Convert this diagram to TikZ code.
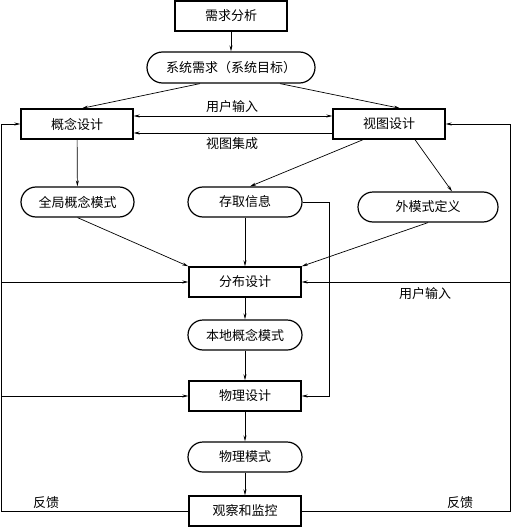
\documentclass[tikz,border=0pt]{standalone}
\usepackage{fontspec}
\newfontfamily\cjk{Noto Sans CJK SC}
\usetikzlibrary{arrows.meta}
\begin{document}
\begin{tikzpicture}[x=1pt,y=-1pt,
  font=\cjk\fontsize{13}{15}\selectfont,
  conn/.style={line width=0.7pt, -{Stealth[length=6pt,width=3pt]}},
  plain/.style={line width=0.7pt},
  boxnode/.style={draw, line width=1.4pt, minimum width=112pt, minimum height=30pt, inner sep=0pt},
  pill/.style={draw, line width=1.2pt, rounded corners=15pt, minimum height=30pt, inner sep=0pt},
  lbl/.style={inner sep=0pt}]
\useasboundingbox (0,0) rectangle (512,527);
\node[boxnode] (req) at (231,16) {需求分析};
\node[pill, minimum width=168pt, minimum height=31pt, rounded corners=15.5pt] (sys) at (231,67.5) {系统需求（系统目标）};
\node[boxnode] (con) at (77,124) {概念设计};
\node[boxnode] (view) at (389,124) {视图设计};
\node[pill, minimum width=113pt] (glob) at (77.5,202) {全局概念模式};
\node[pill, minimum width=114pt] (acc) at (245,202) {存取信息};
\node[pill, minimum width=140pt] (ext) at (428,207) {外模式定义};
\node[boxnode] (dist) at (245,282) {分布设计};
\node[pill, minimum width=114pt] (loc) at (245,335) {本地概念模式};
\node[boxnode] (phys) at (245,396) {物理设计};
\node[pill, minimum width=114pt] (pm) at (245,457) {物理模式};
\node[boxnode] (mon) at (245,511) {观察和监控};
\node[lbl] (ui1) at (232,107) {用户输入};
\node[lbl] (vi) at (232,144) {视图集成};
\node[lbl] (ui2) at (425,294) {用户输入};
\node[lbl] (fb1) at (46,503) {反馈};
\node[lbl] (fb2) at (460,503) {反馈};
\coordinate (L) at (1.5,124);
\coordinate (R) at (510.5,124);
% connectors
\draw[conn] (req) -- (sys);
\draw[conn] ([xshift=-31pt]sys.south) -- ([xshift=5pt]con.north);
\draw[conn] ([xshift=49pt]sys.south) -- ([xshift=11pt]view.north);
\draw[line width=0.7pt, {Stealth[length=6pt,width=3pt]}-{Stealth[length=6pt,width=3pt]}] ([yshift=8pt]con.east) -- ([yshift=8pt]view.west);
\draw[conn] ([yshift=-9pt]view.west) -- ([yshift=-9pt]con.east);
\draw[conn] (con) -- (glob);
\draw[conn] ([xshift=-26pt]view.south) -- ([xshift=5pt]acc.north);
\draw[conn] ([xshift=26pt]view.south) -- ([xshift=24pt]ext.north);
\draw[conn] (glob.south) -- (dist.north west);
\draw[conn] (acc) -- (dist);
\draw[conn] (ext.south) -- (dist.north east);
\draw[conn] (acc.east) -- ++(27,0) |- (phys.east);
\draw[conn] (dist) -- (loc);
\draw[conn] (loc) -- (phys);
\draw[conn] (phys) -- (pm);
\draw[conn] (pm) -- (mon);
\draw[conn] (mon.west) -| (L) -- (con.west);
\draw[conn] (mon.east) -| (R) -- (view.east);
\draw[conn] (L |- dist.west) -- (dist.west);
\draw[conn] (L |- phys.west) -- (phys.west);
\draw[conn] (R |- dist.east) -- (dist.east);
\end{tikzpicture}
\end{document}
